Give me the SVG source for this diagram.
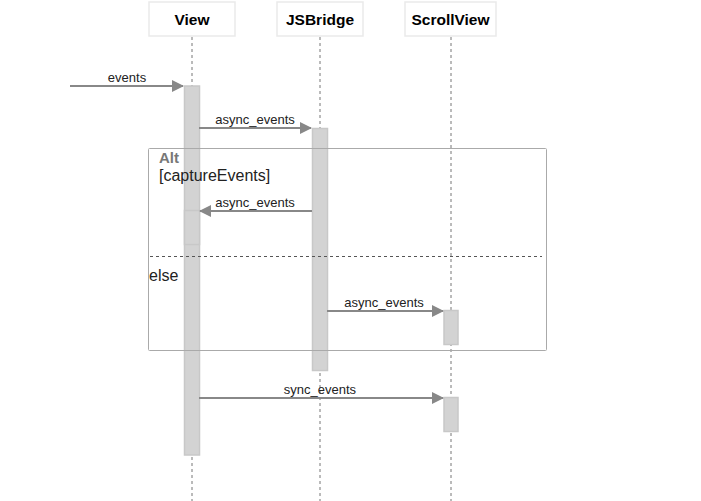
<svg xmlns="http://www.w3.org/2000/svg" width="701" height="501" viewBox="0 0 701 501">
<style>
text{font-family:"Liberation Sans",Arial,sans-serif;}
.actor rect{fill:#fff;stroke:#eaeaea;stroke-width:1.5;}
.actor text{font-size:15.5px;font-weight:bold;fill:#000;text-anchor:middle;}
.life{stroke:#777;stroke-width:1;stroke-dasharray:3,3;fill:none;}
.act{fill:#d3d3d3;stroke:#c8c8c8;stroke-width:1.5;}
.msg{stroke:#888;stroke-width:2;fill:none;marker-end:url(#ah);}
.lbl{font-size:13px;fill:#222;text-anchor:middle;}
.frame{fill:none;stroke:#aaa;stroke-width:1;}
</style>
<defs>
<marker id="ah" viewBox="0 0 12 12" refX="11" refY="6" markerWidth="6" markerHeight="6" orient="auto" markerUnits="strokeWidth"><path d="M0,0 L12,6 L0,12 z" fill="#888"/></marker>
</defs>
<rect width="701" height="501" fill="#fff"/>
<g id="lifelines">
<line class="life" x1="192" y1="37" x2="192" y2="501"/>
<line class="life" x1="320" y1="37" x2="320" y2="501"/>
<line class="life" x1="451" y1="37" x2="451" y2="501"/>
</g>
<g id="actor-View" class="actor"><rect x="149" y="2" width="86" height="34"/><text x="192" y="25">View</text></g>
<g id="actor-JSBridge" class="actor"><rect x="277" y="2" width="86" height="34"/><text x="320" y="25">JSBridge</text></g>
<g id="actor-ScrollView" class="actor"><rect x="405" y="2" width="91" height="34"/><text x="450.5" y="25">ScrollView</text></g>
<g id="activations">
<rect class="act" x="184.5" y="86" width="15" height="369"/>
<rect class="act" x="312.5" y="128.5" width="15" height="242"/>
<rect class="act" x="184.5" y="210.5" width="15" height="34"/>
<rect class="act" x="444" y="310.5" width="14" height="34"/>
<rect class="act" x="444" y="397.5" width="14" height="34"/>
</g>
<g id="alt-frame">
<rect class="frame" x="148.5" y="148.5" width="398" height="202" rx="1"/>
<line x1="150" y1="256.5" x2="542" y2="256.5" stroke="#555" stroke-width="1" stroke-dasharray="3,3"/>
<text x="159" y="163" font-size="15" font-weight="bold" fill="#777">Alt</text>
<text x="159" y="181" font-size="16" fill="#222">[captureEvents]</text>
<text x="149" y="281" font-size="16" fill="#222">else</text>
</g>
<g id="connectors">
<line class="msg" x1="70" y1="86" x2="183" y2="86"/>
<text class="lbl" x="127" y="82">events</text>
<line class="msg" x1="199" y1="128" x2="311" y2="128"/>
<text class="lbl" x="255" y="124">async_events</text>
<line class="msg" x1="312" y1="211" x2="200" y2="211"/>
<text class="lbl" x="255" y="207">async_events</text>
<line class="msg" x1="327" y1="311" x2="443" y2="311"/>
<text class="lbl" x="384" y="307">async_events</text>
<line class="msg" x1="199" y1="398" x2="443" y2="398"/>
<text class="lbl" x="320" y="394">sync_events</text>
</g>
</svg>
